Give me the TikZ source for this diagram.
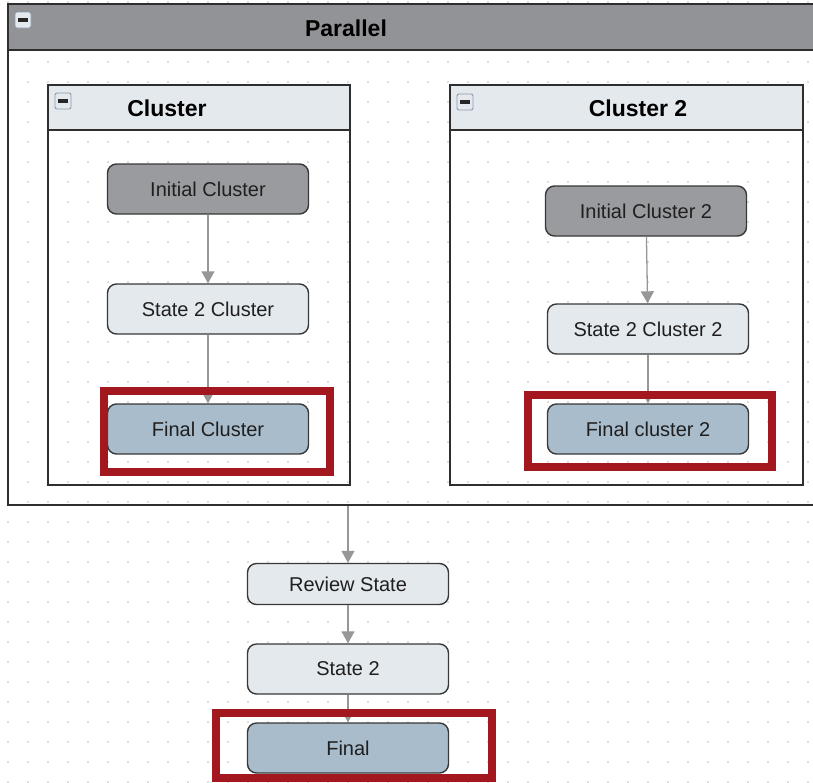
\documentclass[tikz,border=0pt]{standalone}
\usepackage{fontspec}
\setmainfont{Liberation Sans}
\usepackage{tikz}
\usetikzlibrary{arrows.meta, positioning}

\definecolor{headgray}{HTML}{929397}
\definecolor{paleblue}{HTML}{E4E9EE}
\definecolor{initgray}{HTML}{9A9B9F}
\definecolor{finalblue}{HTML}{A9BCCC}
\definecolor{markred}{HTML}{A3171F}
\definecolor{edgegray}{HTML}{979797}
\definecolor{dotgray}{HTML}{BDBDBD}
\definecolor{icongray}{HTML}{8C9AAE}

\tikzset{
  state/.style={draw=black!78, line width=1.4pt, rounded corners=9pt,
    minimum width=201pt, minimum height=50pt, inner sep=0pt,
    font=\fontsize{20}{24}\selectfont, text=black!88},
  initial/.style={state, fill=initgray},
  normal/.style={state, fill=paleblue},
  final/.style={state, fill=finalblue},
  flow/.style={draw=edgegray, line width=1.3pt,
    -{Triangle[width=13pt,length=12pt]}},
  highlight/.style={draw=markred, line width=8pt},
  frame/.style={draw=black!82, line width=1.8pt},
  title/.style={font=\bfseries\fontsize{23}{27}\selectfont, text=black},
}

\begin{document}
\begin{tikzpicture}[x=1pt, y=-1pt]
    \useasboundingbox (0,0) rectangle (813,782);

    % --- 1. dotted grid ---
    \foreach \gx in {8,28,...,808}
      \foreach \gy in {2,22,...,782}
        \fill[dotgray] (\gx,\gy) circle (0.9);

    % --- 2. Parallel container ---
    \fill[headgray] (7,3) rectangle (816,50);
    \draw[frame] (7,50) -- (816,50);
    \node[frame, anchor=north west, minimum width=809pt, minimum height=501pt,
      inner sep=0pt] (parallel) at (7,3) {};
    \node[title] (ptitle) at (346,28) {Parallel};

    % --- 3. the two clusters ---
    \fill[paleblue] (47,84) rectangle (349,130);
    \draw[frame] (47,130) -- (349,130);
    \node[frame, anchor=north west, minimum width=302pt, minimum height=400pt,
      inner sep=0pt] (clusterA) at (47,84) {};
    \node[title] (atitle) at (167,108) {Cluster};

    \fill[paleblue] (449,84) rectangle (802,130);
    \draw[frame] (449,130) -- (802,130);
    \node[frame, anchor=north west, minimum width=353pt, minimum height=400pt,
      inner sep=0pt] (clusterB) at (449,84) {};
    \node[title] (btitle) at (638,108) {Cluster 2};

    % collapse buttons
    \foreach \ix/\iy in {23/20, 63/101, 465/102} {
      \draw[icongray, fill=paleblue, line width=0.9pt, rounded corners=2pt]
        (\ix-8,\iy-8) rectangle (\ix+8,\iy+8);
      \fill[black!85] (\ix-5,\iy-1.6) rectangle (\ix+5,\iy+1.6);
    }

    % --- 4. states ---
    \node[initial] (ini1) at (208,189) {Initial Cluster};
    \node[normal]  (mid1) at (208,309) {State 2 Cluster};
    \node[final]   (fin1) at (208,429) {Final Cluster};

    \node[initial] (ini2) at (646,211) {Initial Cluster 2};
    \node[normal]  (mid2) at (648,329) {State 2 Cluster 2};
    \node[final]   (fin2) at (648,429) {Final cluster 2};

    \node[normal, minimum height=41pt] (review) at (348,584) {Review State};
    \node[normal] (state) at (348,669) {State 2};
    \node[final]  (final) at (348,748) {Final};

    % --- 5. transitions ---
    \draw[flow] (ini1) -- (mid1);
    \draw[flow] (mid1) -- (fin1);
    \draw[flow] (ini2) -- (mid2);
    \draw[flow] (mid2) -- (fin2);
    \draw[flow] (parallel.south -| review.north) -- (review);
    \draw[flow] (review) -- (state);
    \draw[flow] (state) -- (final);

    % --- 6. red highlight of final states ---
    \draw[highlight] (104,391) rectangle (330,472);
    \draw[highlight] (528,395) rectangle (772,467);
    \draw[highlight] (216,713) rectangle (492,778);

\end{tikzpicture}
\end{document}
